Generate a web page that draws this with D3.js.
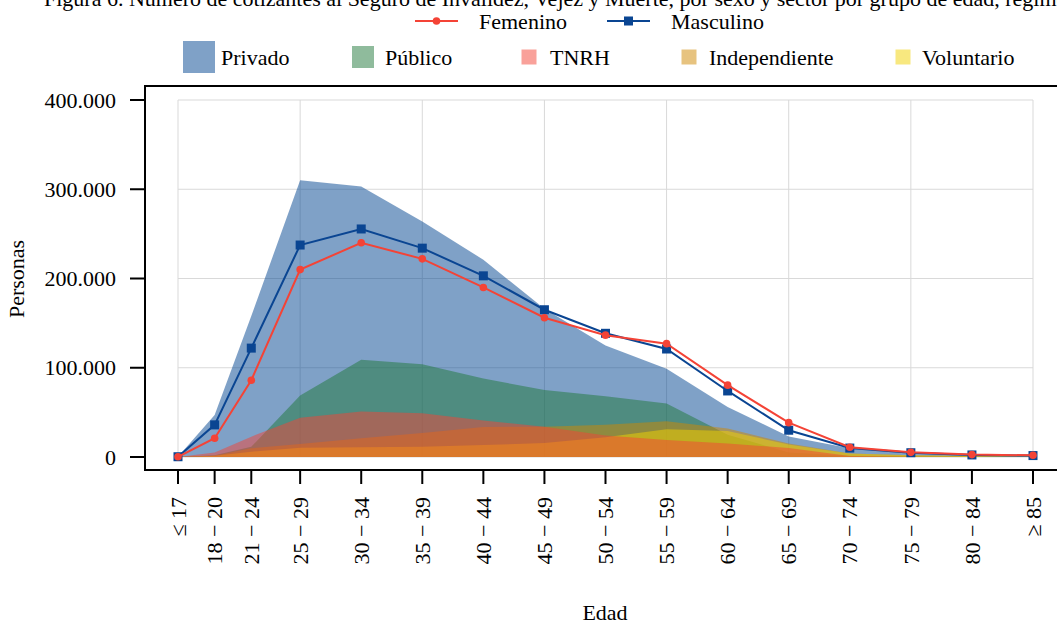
<!DOCTYPE html>
<html><head><meta charset="utf-8">
<script src="https://cdn.jsdelivr.net/npm/d3@7"></script>
<style>
body{margin:0;background:#fff;}
svg{display:block;font-family:"Liberation Serif","DejaVu Serif",serif;}
</style></head>
<body>
<script>
const ageLabels = ["≤ 17","18 − 20","21 − 24","25 − 29","30 − 34","35 − 39","40 − 44","45 − 49","50 − 54","55 − 59","60 − 64","65 − 69","70 − 74","75 − 79","80 − 84","≥ 85"];
const agePos = [15,18,21,25,30,35,40,45,50,55,60,65,70,75,80,85];
const gridPos = [15,25,35,45,55,65,75,85];
const yTicks = [0,100000,200000,300000,400000];

const privado       = [300, 47000,158000,310000,303000,264000,221000,166000,125000,99000,56000,23000,9700,4800,2000,1500];
const publico       = [100,  2000, 11500, 69000,109000,104000, 88000, 75000, 68000,60000,25000, 5000,1500, 800, 400, 300];
const tnrh          = [100,  5000, 22800, 44000, 51000, 49000, 41000, 34000, 24000,19000,15000,10000,1000, 300, 100, 100];
const independiente = [100,  1500,  9700, 14500, 21000, 27000, 33600, 34000, 36000,40000,32000,15000,4000,2000,1000, 500];
const voluntario    = [100,  1500,  6000, 10500, 11000, 11600, 13400, 15600, 22000,31000,29000,14000,4000,2000,1000, 500];

const femenino  = [200,21000,86000,210000,240000,222000,190000,156000,136500,127000,80500,38500,11000,5200,2700,1900];
const masculino = [300,36000,122000,237500,255500,234000,203000,165000,138600,121000,74000,30000,10000,4800,2300,1600];

const W = 1057, H = 624;
const svg = d3.select("body").append("svg").attr("width",W).attr("height",H);

const x = d3.scaleLinear().domain([15,85]).range([178,1033]);
const y = d3.scaleLinear().domain([0,400000]).range([457,100]);

const FS = 22;
const fmt = d => d3.format(",")(d).replace(/,/g,".");

// title (cut off at top, as in the reference)
svg.append("text").attr("x",44).attr("y",6).attr("font-size",FS)
  .text("Figura 6. Número de cotizantes al Seguro de Invalidez, Vejez y Muerte, por sexo y sector por grupo de edad, régimen de Seguridad Social");

// grid
const grid = svg.append("g").attr("stroke","#d9d9d9").attr("stroke-width",1);
grid.selectAll("line.h").data(yTicks).join("line")
  .attr("x1",x(15)).attr("x2",x(85)).attr("y1",d=>y(d)).attr("y2",d=>y(d));
grid.selectAll("line.v").data(gridPos).join("line")
  .attr("x1",d=>x(d)).attr("x2",d=>x(d)).attr("y1",y(400000)).attr("y2",y(0));

// areas
const series = [
  {name:"Privado", vals:privado, color:"#00438f"},
  {name:"Público", vals:publico, color:"#1f7739"},
  {name:"Independiente", vals:independiente, color:"#cf8800"},
  {name:"Voluntario", vals:voluntario, color:"#f1d100"},
  {name:"TNRH", vals:tnrh, color:"#f44336"}
];
const area = d3.area().x((d,i)=>x(agePos[i])).y0(y(0)).y1(d=>y(d));
svg.append("g").selectAll("path").data(series).join("path")
  .attr("d",s=>area(s.vals)).attr("fill",s=>s.color).attr("fill-opacity",0.5);

// lines
const line = d3.line().x((d,i)=>x(agePos[i])).y(d=>y(d));
const mColor = "#0a4592", fColor = "#f44336";
svg.append("path").attr("d",line(masculino)).attr("fill","none").attr("stroke",mColor).attr("stroke-width",2);
svg.append("g").selectAll("rect").data(masculino).join("rect")
  .attr("x",(d,i)=>x(agePos[i])-4.5).attr("y",d=>y(d)-4.5).attr("width",9).attr("height",9).attr("fill",mColor);
svg.append("path").attr("d",line(femenino)).attr("fill","none").attr("stroke",fColor).attr("stroke-width",2);
svg.append("g").selectAll("circle").data(femenino).join("circle")
  .attr("cx",(d,i)=>x(agePos[i])).attr("cy",d=>y(d)).attr("r",3.8).attr("fill",fColor);

// frame
const fr = svg.append("g").attr("stroke","#000").attr("stroke-width",2).attr("fill","none");
fr.append("path").attr("d",`M${W+5},86 H145 V470 H${W+5}`);

// y axis ticks + labels
svg.append("g").selectAll("line").data(yTicks).join("line")
  .attr("x1",130).attr("x2",145).attr("y1",d=>y(d)).attr("y2",d=>y(d)).attr("stroke","#000").attr("stroke-width",2);
svg.append("g").selectAll("text").data(yTicks).join("text")
  .attr("x",116).attr("y",d=>y(d)).attr("dy","0.35em").attr("text-anchor","end").attr("font-size",FS)
  .text(d=>fmt(d));

// x axis ticks + labels
svg.append("g").selectAll("line").data(agePos).join("line")
  .attr("x1",d=>x(d)).attr("x2",d=>x(d)).attr("y1",470).attr("y2",484).attr("stroke","#000").attr("stroke-width",2);
svg.append("g").selectAll("text").data(agePos).join("text")
  .attr("transform",d=>`translate(${x(d)},497) rotate(-90)`)
  .attr("text-anchor","end").attr("dy","0.35em").attr("font-size",FS)
  .text((d,i)=>ageLabels[i]);

// axis titles
svg.append("text").attr("x",605).attr("y",620).attr("text-anchor","middle").attr("font-size",FS).text("Edad");
svg.append("text").attr("transform","translate(24,279) rotate(-90)").attr("text-anchor","middle").attr("font-size",FS).text("Personas");

// legend row 1 (lines)
const lg1 = [
  {name:"Femenino", x0:415, tx:479, color:fColor, shape:"circle"},
  {name:"Masculino", x0:607, tx:671, color:mColor, shape:"square"}
];
lg1.forEach(l=>{
  const g = svg.append("g");
  g.append("line").attr("x1",l.x0).attr("x2",l.x0+43).attr("y1",21).attr("y2",21).attr("stroke",l.color).attr("stroke-width",2);
  if(l.shape==="circle") g.append("circle").attr("cx",l.x0+21.5).attr("cy",21).attr("r",3.8).attr("fill",l.color);
  else g.append("rect").attr("x",l.x0+17).attr("y",16.5).attr("width",9).attr("height",9).attr("fill",l.color);
  g.append("text").attr("x",l.tx).attr("y",21).attr("dy","0.35em").attr("font-size",FS).text(l.name);
});

// legend row 2 (areas)
const lg2 = [
  {name:"Privado", cx:199, size:32, tx:221, color:"#00438f"},
  {name:"Público", cx:363, size:22, tx:385, color:"#1f7739"},
  {name:"TNRH", cx:529, size:15, tx:550, color:"#f44336"},
  {name:"Independiente", cx:689, size:15, tx:709, color:"#cf8800"},
  {name:"Voluntario", cx:903, size:15, tx:922, color:"#f1d100"}
];
lg2.forEach(l=>{
  svg.append("rect").attr("x",l.cx-l.size/2).attr("y",57-l.size/2).attr("width",l.size).attr("height",l.size)
    .attr("fill",l.color).attr("fill-opacity",0.5);
  svg.append("text").attr("x",l.tx).attr("y",57).attr("dy","0.35em").attr("font-size",FS).text(l.name);
});
</script>
</body></html>
